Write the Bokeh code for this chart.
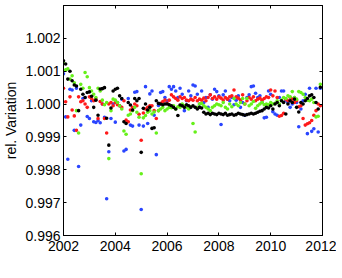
import pandas as pd
from bokeh.plotting import figure
from bokeh.models import LinearAxis, FixedTicker, Range1d, NumeralTickFormatter
from bokeh.embed import file_html
from bokeh.resources import INLINE

# monthly sampling 2002-01 .. 2011-12
dates = pd.date_range("2002-01-01", periods=120, freq="MS")
t = list(dates.year + (dates.month - 1) / 12)

black = [
    1.00132, 1.00122, 1.00076, 1.00100, 1.00071, 1.00058, 1.00055, 0.99980, 1.00045, 1.00030, 1.00020, 1.00035,
    1.00037, 1.00024, 0.99990, 1.00012, 0.99966, 1.00046, 1.00047, 1.00050, 0.99957, 0.99875, 0.99988, 1.00040,
    1.00045, 1.00048, 1.00025, 1.00017, 0.99946, 0.99941, 1.00005, 0.99997, 0.99982, 1.00017, 1.00010, 1.00017,
    0.99853, 0.99987, 1.00000, 0.99982, 0.99990, 0.99926, 0.99928, 1.00010, 1.00002, 1.00000, 0.99998, 1.00000,
    1.00000, 0.99998, 0.99995, 0.99990, 0.99985, 0.99965, 0.99997, 0.99995, 0.99990, 0.99998, 0.99995, 0.99990,
    0.99995, 0.99990, 0.99985, 0.99990, 0.99988, 0.99975, 0.99970, 0.99972, 0.99968, 0.99972, 0.99970, 0.99968,
    0.99972, 0.99970, 0.99968, 0.99972, 0.99966, 0.99968, 0.99970, 0.99966, 0.99968, 0.99972, 0.99970, 0.99968,
    0.99966, 0.99968, 0.99970, 0.99972, 0.99970, 0.99972, 0.99975, 0.99978, 0.99980, 0.99985, 0.99990, 0.99988,
    0.99995, 0.99985, 1.00000, 1.00005, 0.99995, 1.00010, 1.00005, 0.99970, 1.00000, 1.00010, 1.00005, 1.00015,
    0.99990, 0.99976, 1.00005, 1.00000, 1.00010, 1.00017, 1.00025, 1.00028, 1.00020, 1.00005, 0.99985, 1.00051,
]

red = [
    1.00048, 1.00007, 0.99961, 1.00022, 0.99982, 0.99964, 0.99920, 1.00022, 1.00007, 1.00010, 1.00000, 0.99990,
    1.00022, 1.00017, 1.00010, 1.00015, 0.99956, 1.00008, 1.00000, 0.99956, 0.99912, 1.00000, 1.00005, 0.99995,
    1.00005, 0.99998, 0.99995, 0.99990, 1.00010, 0.99951, 0.99946, 0.99982, 0.99990, 1.00000, 0.99995, 0.99969,
    0.99890, 0.99973, 0.99985, 0.99990, 0.99995, 0.99995, 0.99980, 0.99956, 0.99980, 1.00002, 1.00008, 1.00012,
    1.00002, 1.00012, 1.00028, 1.00022, 1.00017, 1.00012, 1.00022, 1.00017, 1.00020, 1.00012, 1.00010, 1.00015,
    1.00012, 1.00020, 1.00010, 1.00015, 1.00012, 1.00018, 1.00010, 1.00020, 1.00028, 1.00017, 1.00022, 1.00015,
    1.00022, 1.00018, 1.00012, 1.00020, 1.00015, 1.00022, 1.00025, 1.00043, 1.00022, 1.00018, 1.00012, 1.00028,
    1.00000, 1.00010, 1.00020, 1.00015, 1.00022, 1.00010, 1.00015, 1.00018, 1.00012, 1.00017, 1.00022, 1.00020,
    1.00043, 1.00025, 1.00040, 1.00020, 0.99963, 0.99965, 0.99972, 1.00015, 1.00010, 1.00020, 1.00015, 1.00005,
    1.00010, 0.99992, 0.99995, 0.99956, 0.99936, 0.99940, 0.99943, 0.99950, 0.99966, 0.99980, 1.00000, 0.99995,
]

green = [
    1.00124, 1.00104, 1.00107, 1.00076, 1.00086, 1.00065, 0.99980, 0.99912, 1.00060, 1.00048, 1.00096, 1.00083,
    1.00050, 1.00040, 1.00030, 1.00020, 1.00048, 1.00040, 1.00012, 0.99998, 1.00005, 0.99834, 0.99980, 1.00015,
    1.00012, 1.00005, 0.99995, 0.99985, 0.99918, 0.99908, 0.99966, 0.99970, 0.99980, 0.99990, 0.99975, 0.99960,
    0.99788, 0.99958, 0.99965, 0.99975, 0.99980, 0.99970, 0.99976, 0.99912, 0.99980, 0.99985, 0.99990, 0.99980,
    0.99985, 0.99990, 0.99989, 0.99995, 0.99985, 0.99992, 0.99990, 1.00000, 0.99995, 0.99990, 0.99985, 0.99992,
    0.99941, 0.99915, 0.99990, 1.00000, 1.00002, 0.99995, 0.99990, 0.99985, 0.99980, 0.99990, 0.99995, 1.00000,
    0.99998, 0.99995, 1.00005, 0.99990, 0.99985, 1.00000, 0.99992, 1.00017, 1.00000, 0.99995, 1.00005, 1.00017,
    1.00000, 1.00017, 0.99995, 1.00000, 1.00008, 0.99987, 0.99995, 1.00000, 1.00005, 0.99998, 1.00000, 0.99998,
    1.00005, 1.00000, 1.00002, 1.00010, 1.00000, 1.00012, 1.00020, 1.00017, 1.00025, 1.00022, 1.00038, 1.00020,
    1.00015, 1.00038, 1.00035, 1.00030, 1.00020, 1.00012, 1.00010, 1.00015, 1.00005, 0.99961, 0.99963, 1.00060,
]

blue = [
    1.00092, 0.99961, 0.99832, 1.00045, 1.00043, 0.99920, 1.00048, 0.99810, 0.99936, 1.00017, 1.00020, 0.99962,
    0.99956, 1.00010, 0.99946, 0.99944, 0.99950, 0.99943, 1.00000, 0.99960, 0.99712, 0.99855, 0.99956, 1.00000,
    0.99945, 1.00005, 0.99995, 1.00015, 0.99857, 0.99862, 1.00017, 0.99936, 0.99933, 1.00036, 1.00038, 0.99936,
    0.99679, 0.99933, 1.00053, 0.99941, 1.00031, 1.00040, 0.99966, 0.99846, 0.99996, 1.00035, 1.00038, 1.00020,
    1.00010, 1.00053, 1.00045, 1.00053, 1.00040, 1.00020, 1.00048, 1.00030, 0.99980, 1.00010, 1.00040, 1.00025,
    1.00058, 1.00055, 1.00030, 1.00000, 1.00040, 1.00005, 1.00020, 0.99990, 1.00028, 1.00015, 1.00045, 1.00038,
    1.00025, 0.99938, 1.00028, 1.00040, 1.00015, 1.00010, 1.00020, 0.99998, 1.00012, 1.00025, 0.99990, 1.00005,
    0.99966, 1.00020, 1.00028, 1.00053, 1.00055, 1.00033, 1.00020, 1.00025, 1.00005, 0.99958, 0.99960, 1.00040,
    1.00030, 0.99977, 0.99970, 0.99966, 1.00020, 1.00040, 1.00040, 1.00012, 1.00005, 0.99990, 1.00000, 1.00020,
    1.00005, 0.99931, 0.99985, 1.00010, 1.00030, 0.99910, 1.00048, 0.99917, 0.99925, 1.00048, 0.99915, 1.00048,
]

x_ticks = [2002, 2004, 2006, 2008, 2010, 2012]
y_ticks = [0.996, 0.997, 0.998, 0.999, 1.000, 1.001, 1.002]

FONT = "Liberation Sans"

p = figure(
    frame_width=259, frame_height=230,
    x_range=Range1d(2002, 2012), y_range=Range1d(0.996, 1.003),
    output_backend="svg", toolbar_location=None,
    min_border_left=62, min_border_top=5, min_border_right=14, min_border_bottom=30,
    background_fill_color="white", border_fill_color="white",
)
p.grid.visible = False
p.outline_line_color = "black"
p.outline_line_width = 1

series = [(blue, "#2a45ff"), (red, "#ff1a1a"), (green, "#66f01a"), (black, "#000000")]
for vals, col in series:
    p.scatter(t, vals, size=3.6, fill_color=col, line_color=None, marker="circle")


def style(ax):
    ax.axis_line_color = "black"
    ax.major_tick_line_color = "black"
    ax.major_tick_in = 3
    ax.major_tick_out = 0
    ax.minor_tick_line_color = None
    ax.major_label_text_font = FONT
    ax.major_label_text_color = "black"
    ax.major_label_text_font_size = "14px"


p.xaxis.ticker = FixedTicker(ticks=x_ticks)
p.xaxis.formatter = NumeralTickFormatter(format="0")
p.yaxis.ticker = FixedTicker(ticks=y_ticks)
p.yaxis.formatter = NumeralTickFormatter(format="0.000")
style(p.xaxis[0])
style(p.yaxis[0])
p.xaxis.major_label_standoff = 5
p.yaxis.major_label_standoff = 3
p.yaxis.axis_label = "rel. Variation"
p.yaxis.axis_label_text_font = FONT
p.yaxis.axis_label_text_font_size = "14px"
p.yaxis.axis_label_text_font_style = "normal"
p.yaxis.axis_label_text_color = "black"
p.yaxis.axis_label_standoff = 3

top = LinearAxis(ticker=FixedTicker(ticks=x_ticks))
style(top)
top.major_label_overrides = {v: "" for v in x_ticks}
top.major_label_standoff = 0
p.add_layout(top, "above")
right = LinearAxis(ticker=FixedTicker(ticks=y_ticks))
style(right)
right.major_label_overrides = {v: "" for v in y_ticks}
right.major_label_standoff = 0
p.add_layout(right, "right")

open("out.html", "w").write(file_html(p, INLINE))
